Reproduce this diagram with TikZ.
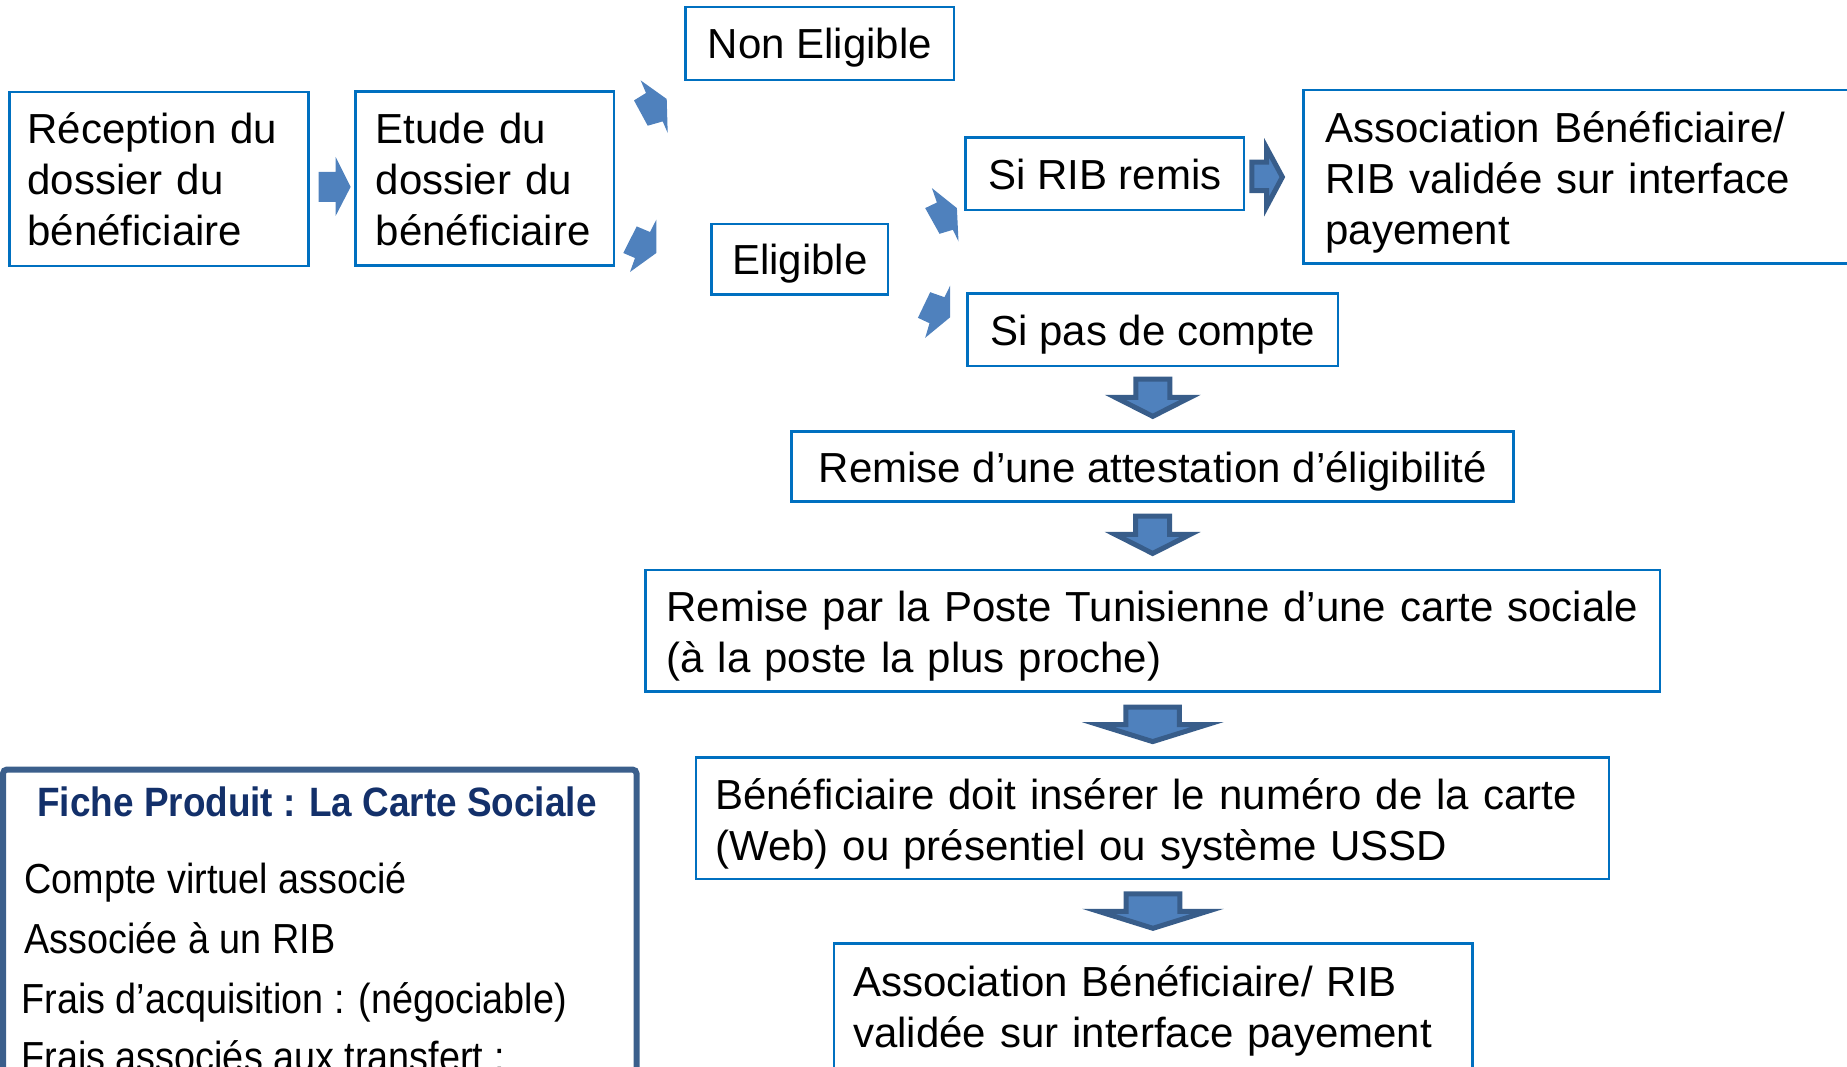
\documentclass[tikz,border=0pt]{standalone}
\usepackage{fontspec}
\setmainfont{Liberation Sans}
\newfontfamily\fichefont[FakeStretch=0.9]{Liberation Sans}
\usetikzlibrary{calc}
\definecolor{boxblue}{HTML}{0070C0}
\definecolor{arrowblue}{HTML}{4F81BD}
\definecolor{arrowdark}{HTML}{385D8A}
\definecolor{fichenavy}{HTML}{13306A}
\definecolor{ficheframe}{HTML}{3B5F8C}
\newcommand{\BoxFont}{\fontsize{21}{25.5}\selectfont}
\newcommand{\FicheFont}{\fichefont\fontsize{21}{25}\selectfont}

\begin{document}
\begin{tikzpicture}[x=0.5pt, y=-0.5pt,
  etape/.style={draw=boxblue, line width=1.25pt, outer sep=0pt, inner ysep=0pt, anchor=north west, font=\BoxFont, text depth=0pt},
  etapel/.style={draw=boxblue, line width=1.25pt, outer sep=0pt, inner ysep=0pt, anchor=north west, font=\BoxFont, align=left, text height=15.5pt},
  flatarrow/.style={fill=arrowblue},
  fatarrow/.style={fill=arrowblue, draw=arrowdark, line width=2.5pt, line join=miter},
  item/.style={anchor=base west, inner sep=0pt, font=\FicheFont}]
  \useasboundingbox (0,0) rectangle (1847,1066);
  \clip (0,0) rectangle (1847,1066);

  % top row
  \node[etapel, minimum width=149.6pt, minimum height=87.15pt, inner xsep=9pt, text width=131.6pt, text depth=51pt] (recep) at (9.4,91.9) {Réception du\\dossier du\\bénéficiaire};
  \node[etapel, minimum width=129.15pt, minimum height=87pt, inner xsep=10pt, text width=109.15pt, text depth=51pt] (etude) at (355.7,91.7) {Etude du\\dossier du\\bénéficiaire};
  \node[etape, minimum width=134.25pt, minimum height=36.5pt] (noneli) at (685.7,7) {Non Eligible};
  \node[etape, minimum width=88.35pt, minimum height=35.35pt] (eli) at (711.5,223.8) {Eligible};
  \node[etape, minimum width=139.15pt, minimum height=36.15pt] (rib) at (965.7,137.7) {Si RIB remis};
  \node[etape, minimum width=185.15pt, minimum height=36.15pt] (pas) at (967.7,293.7) {Si pas de compte};
  \node[etapel, minimum width=300pt, minimum height=86.85pt, inner xsep=11pt, text width=278pt, text depth=49.6pt] (assoc) at (1303.3,90) {Association Bénéficiaire/\\RIB validée sur interface\\payement};

  % vertical chain
  \node[etape, minimum width=361pt, minimum height=35pt] (attest) at (791.7,431.7) {Remise d’une attestation d’éligibilité};
  \node[etapel, minimum width=507.15pt, minimum height=60.65pt, inner xsep=10.5pt, text width=486.15pt, text depth=25.1pt] (poste) at (645.5,570.2) {Remise par la Poste Tunisienne d’une carte sociale\\(à la poste la plus proche)};
  \node[etapel, minimum width=456.45pt, minimum height=60.65pt, inner xsep=9.5pt, text width=437.45pt, text depth=24.1pt] (benef) at (696.2,757.7) {Bénéficiaire doit insérer le numéro de la carte\\(Web) ou présentiel ou système USSD};
  \node[etapel, minimum width=319.25pt, minimum height=71pt, inner xsep=9.5pt, text width=300.25pt, text depth=33.5pt] (assocb) at (834,943.6) {Association Bénéficiaire/ RIB\\validée sur interface payement};

  % fiche produit
  \node[draw=ficheframe, line width=3pt, outer sep=0pt, rounded corners=2pt, anchor=north west, minimum width=316.75pt, minimum height=200pt] (fiche) at (3,769.5) {};
  \node[anchor=base, inner sep=0pt, text=fichenavy, font={\fichefont\bfseries\fontsize{20.5}{24}\selectfont}] (titre) at (317,816) {Fiche Produit : La Carte Sociale};
  \node[item] (c1) at (24,893) {Compte virtuel associé};
  \node[item] (c2) at (24,953) {Associée à un RIB};
  \node[item] (c3) at (21,1013) {Frais d’acquisition : (négociable)};
  \node[item] (c4) at (21,1071) {Frais associés aux transfert :};

  % block arrows
  \fill[flatarrow, shift={($(recep.east)!0.5!(etude.west)$)}] (-13.5,-7) -- (3.5,-7) -- (3.5,-22) -- (18.5,8) -- (3.5,37) -- (3.5,23) -- (-13.5,23) -- cycle;
  \fill[flatarrow, shift={(etude.north east)}] (26.7,-11.3) -- (52.7,7.3) -- (53.7,41.3) -- (48.7,29.7) -- (33.7,34) -- (20,8.7) -- (32,1.3) -- cycle;
  \fill[flatarrow, shift={(etude.south east)}] (42.3,-46) -- (42.3,-12.7) -- (16,6.3) -- (21,-7.7) -- (9.3,-12.7) -- (22.7,-39.3) -- (36,-33.7) -- cycle;
  \fill[flatarrow, shift={(eli.north east)}] (43.7,-35.7) -- (68.7,-15.7) -- (70.3,17.7) -- (64.7,6) -- (51.3,10) -- (37,-15.7) -- (48.7,-21.3) -- cycle;
  \fill[flatarrow, shift={(eli.south east)}] (62,-9) -- (62,22.7) -- (37,43.3) -- (41.3,28.7) -- (29.7,23.3) -- (42,-2.3) -- (56.3,2.7) -- cycle;
  \filldraw[fatarrow, shift={($(rib.east)!0.5!(assoc.west)$)}] (-21.7,-13.2) -- (-7,-13.2) -- (-7,-27.4) -- (8.7,1.7) -- (-7,31.1) -- (-7,15.2) -- (-21.7,15.2) -- cycle;
  \filldraw[fatarrow, shift={($(pas.south)!0.5!(attest.north)$)}] (-17,-19.8) -- (17,-19.8) -- (17,-1.5) -- (37.5,-1.5) -- (0,17.5) -- (-37.5,-1.5) -- (-17,-1.5) -- cycle;
  \filldraw[fatarrow, shift={($(attest.south)!0.5!(poste.north)$)}] (-17,-19.8) -- (17,-19.8) -- (17,-1.5) -- (37.5,-1.5) -- (0,17.5) -- (-37.5,-1.5) -- (-17,-1.5) -- cycle;
  \filldraw[fatarrow, shift={($(poste.south)!0.5!(benef.north)$)}] (-26.8,-17.5) -- (26.8,-17.5) -- (26.8,0) -- (54.5,0) -- (0,17) -- (-54.5,0) -- (-26.8,0) -- cycle;
  \filldraw[fatarrow, shift={($(benef.south)!0.5!(assocb.north)$)}] (-26.8,-17.5) -- (26.8,-17.5) -- (26.8,0) -- (54.5,0) -- (0,17) -- (-54.5,0) -- (-26.8,0) -- cycle;
\end{tikzpicture}
\end{document}
